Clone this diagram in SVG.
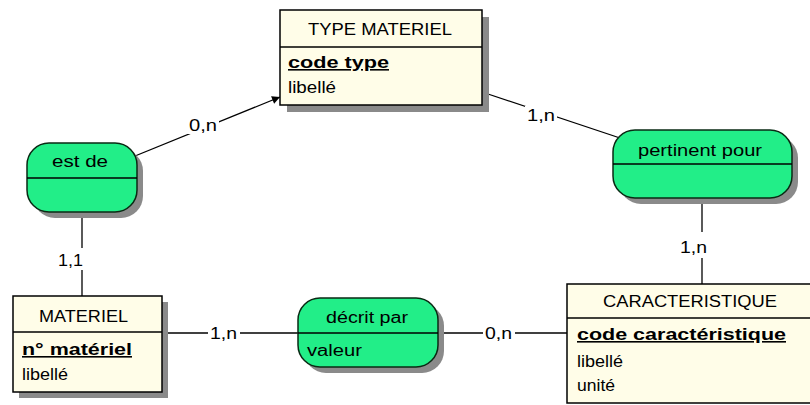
<svg xmlns="http://www.w3.org/2000/svg" width="810" height="405" viewBox="0 0 810 405">
<defs>
<style>
.ent{fill:#fffde8;stroke:#000;stroke-width:1.5}
.rel{fill:#22ee88;stroke:#0a2a14;stroke-width:1.5}
.sh{fill:#8a8a8a}
.sep{stroke:#000;stroke-width:1.3}
.t{font-family:"Liberation Sans",Arial,sans-serif;font-size:16px;fill:#000}
.b{font-family:"Liberation Sans",Arial,sans-serif;font-size:16px;font-weight:bold;fill:#000;text-decoration:underline}
.ln{stroke:#000;stroke-width:1.3;fill:none}
.lbl{font-family:"Liberation Sans",Arial,sans-serif;font-size:16px;fill:#000}
</style>
<marker id="arr" viewBox="0 0 10 10" refX="10" refY="5" markerWidth="10" markerHeight="8" orient="auto" markerUnits="userSpaceOnUse">
<path d="M0,0 L10,5 L0,10 z" fill="#000"/>
</marker>
</defs>
<rect width="810" height="405" fill="#fff"/>

<g id="connectors">
<line class="ln" x1="135" y1="156" x2="280" y2="97" marker-end="url(#arr)"/>
<line class="ln" x1="482" y1="92" x2="620" y2="138"/>
<line class="ln" x1="82" y1="212" x2="82" y2="296"/>
<line class="ln" x1="702" y1="198" x2="702" y2="284"/>
<line class="ln" x1="162" y1="333" x2="298" y2="333"/>
<line class="ln" x1="438" y1="333" x2="567" y2="333"/>
<rect x="187" y="116" width="32" height="18" fill="#fff"/>
<text class="lbl" x="189" y="131" textLength="28" lengthAdjust="spacingAndGlyphs">0,n</text>
<rect x="525" y="106" width="32" height="18" fill="#fff"/>
<text class="lbl" x="527" y="121" textLength="28" lengthAdjust="spacingAndGlyphs">1,n</text>
<rect x="56" y="248" width="30" height="22" fill="#fff"/>
<text class="lbl" x="58" y="266" textLength="25" lengthAdjust="spacingAndGlyphs">1,1</text>
<rect x="678" y="232" width="32" height="26" fill="#fff"/>
<text class="lbl" x="680" y="253" textLength="27" lengthAdjust="spacingAndGlyphs">1,n</text>
<rect x="208" y="325" width="32" height="18" fill="#fff"/>
<text class="lbl" x="210" y="339" textLength="27" lengthAdjust="spacingAndGlyphs">1,n</text>
<rect x="483" y="325" width="32" height="18" fill="#fff"/>
<text class="lbl" x="485" y="339" textLength="27" lengthAdjust="spacingAndGlyphs">0,n</text>
</g>

<g id="type-materiel">
<rect class="sh" x="287" y="17" width="202" height="95"/>
<rect class="ent" x="280" y="10" width="202" height="95"/>
<line class="sep" x1="280" y1="47" x2="482" y2="47"/>
<text class="t" x="308" y="35" textLength="144" lengthAdjust="spacingAndGlyphs">TYPE MATERIEL</text>
<text class="b" x="288" y="68" textLength="101" lengthAdjust="spacingAndGlyphs">code type</text>
<text class="t" x="288" y="93" textLength="48" lengthAdjust="spacingAndGlyphs">libellé</text>
</g>

<g id="est-de">
<rect class="sh" x="33" y="149" width="110" height="69" rx="22" ry="22"/>
<rect class="rel" x="27" y="143" width="110" height="69" rx="22" ry="22"/>
<line class="sep" x1="27" y1="178" x2="137" y2="178"/>
<text class="t" x="52" y="167" textLength="56" lengthAdjust="spacingAndGlyphs">est de</text>
</g>

<g id="pertinent-pour">
<rect class="sh" x="619" y="136" width="179" height="68" rx="22" ry="22"/>
<rect class="rel" x="613" y="130" width="179" height="68" rx="22" ry="22"/>
<line class="sep" x1="613" y1="164" x2="792" y2="164"/>
<text class="t" x="638" y="156" textLength="124" lengthAdjust="spacingAndGlyphs">pertinent pour</text>
</g>

<g id="materiel">
<rect class="sh" x="19" y="302" width="149" height="96"/>
<rect class="ent" x="13" y="296" width="149" height="96"/>
<line class="sep" x1="13" y1="332" x2="162" y2="332"/>
<text class="t" x="39" y="322" textLength="89" lengthAdjust="spacingAndGlyphs">MATERIEL</text>
<text class="b" x="22" y="355" textLength="110" lengthAdjust="spacingAndGlyphs">n° matériel</text>
<text class="t" x="22" y="380" textLength="46" lengthAdjust="spacingAndGlyphs">libellé</text>
</g>

<g id="decrit-par">
<rect class="sh" x="304" y="304" width="140" height="69" rx="22" ry="22"/>
<rect class="rel" x="298" y="298" width="140" height="69" rx="22" ry="22"/>
<line class="sep" x1="298" y1="333" x2="438" y2="333"/>
<text class="t" x="326" y="323" textLength="82" lengthAdjust="spacingAndGlyphs">décrit par</text>
<text class="t" x="307" y="356" textLength="55" lengthAdjust="spacingAndGlyphs">valeur</text>
</g>

<g id="caracteristique">
<rect class="ent" x="567" y="284" width="250" height="119"/>
<line class="sep" x1="567" y1="318" x2="817" y2="318"/>
<text class="t" x="603" y="307" textLength="174" lengthAdjust="spacingAndGlyphs">CARACTERISTIQUE</text>
<text class="b" x="577" y="340" textLength="209" lengthAdjust="spacingAndGlyphs">code caractéristique</text>
<text class="t" x="577" y="367" textLength="46" lengthAdjust="spacingAndGlyphs">libellé</text>
<text class="t" x="577" y="391" textLength="38" lengthAdjust="spacingAndGlyphs">unité</text>
</g>
</svg>
